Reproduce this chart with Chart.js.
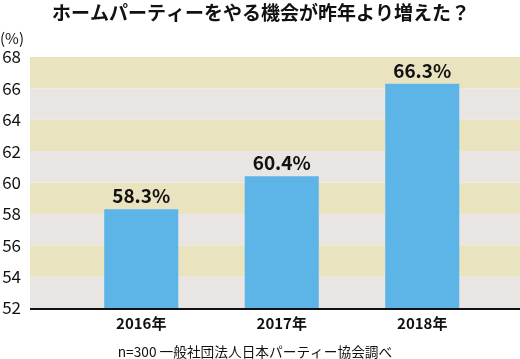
<!DOCTYPE html>
<html>
<head>
<meta charset="utf-8">
<script src="https://cdn.jsdelivr.net/npm/chart.js@4/dist/chart.umd.min.js"></script>
<style>
html,body{margin:0;padding:0;background:#fff;}
#wrap{width:520px;height:359px;position:relative;}
</style>
</head>
<body>
<div id="wrap"><canvas id="c" width="520" height="359"></canvas></div>
<script>
const categories = ["2016年", "2017年", "2018年"];
const values = [58.3, 60.4, 66.3];
const valueLabels = ["58.3%", "60.4%", "66.3%"];
const yTicks = [52, 54, 56, 58, 60, 62, 64, 66, 68];
const titleText = "ホームパーティーをやる機会が昨年より増えた？";
const unitText = "(%)";
const sourceText = "n=300 一般社団法人日本パーティー協会調べ";

const FONT = '"Noto Sans CJK JP", "Noto Sans", sans-serif';
const BEIGE = "#eae3c0";
const GREY = "#e9e5e2";
const BAR = "#5db4e7";

const bandsPlugin = {
  id: "bands",
  beforeDatasetsDraw(chart) {
    const ctx = chart.ctx, y = chart.scales.y;
    ctx.save();
    for (let i = 0; i < yTicks.length - 1; i++) {
      const v0 = yTicks[i], v1 = yTicks[i + 1];
      const top = y.getPixelForValue(v1), bot = y.getPixelForValue(v0);
      ctx.fillStyle = (i % 2 === 1) ? BEIGE : GREY;
      ctx.fillRect(30, top, 520 - 30, bot - top);
    }
    ctx.restore();
  },
  afterDatasetsDraw(chart) {
    const ctx = chart.ctx, y = chart.scales.y;
    ctx.save();
    const base = y.getPixelForValue(yTicks[0]);
    ctx.fillStyle = "#111";
    ctx.fillRect(30, base, 490, 2);
    const meta = chart.getDatasetMeta(0);
    ctx.font = "bold 19px " + FONT;
    ctx.textAlign = "center";
    ctx.textBaseline = "alphabetic";
    meta.data.forEach((bar, i) => {
      ctx.fillText(valueLabels[i], bar.x, bar.y - 6);
    });
    ctx.font = "15px " + FONT;
    ctx.textAlign = "left";
    ctx.textBaseline = "middle";
    ctx.fillText(unitText, 0, 38.5);
    ctx.font = "bold 19px " + FONT;
    ctx.textAlign = "center";
    ctx.fillText(titleText, 261, 12.5);
    ctx.font = "13.7px " + FONT;
    ctx.fillText(sourceText, 255, 352);
    ctx.restore();
  }
};

new Chart(document.getElementById("c"), {
  type: "bar",
  data: {
    labels: categories,
    datasets: [{
      data: values,
      backgroundColor: BAR,
      borderWidth: 0,
      categoryPercentage: 1,
      barPercentage: 0.527
    }]
  },
  options: {
    responsive: false,
    animation: false,
    layout: { padding: { top: 57, right: 27.5, bottom: 14, left: 0 } },
    plugins: {
      legend: { display: false },
      tooltip: { enabled: false },
      title: { display: false },
      subtitle: { display: false }
    },
    scales: {
      x: {
        grid: { display: false, drawTicks: false },
        border: { display: false },
        ticks: { color: "#111", font: { family: FONT, size: 15, weight: "bold", lineHeight: 1.2 }, padding: 6.5 },
        afterFit(scale) { scale.height = 37; }
      },
      y: {
        min: 52, max: 68,
        grid: { display: false, drawTicks: false },
        border: { display: false },
        afterBuildTicks(scale) { scale.ticks = yTicks.map(v => ({ value: v })); },
        ticks: { color: "#111", font: { family: FONT, size: 17 }, padding: 50 },
        afterFit(scale) { scale.width = 71; scale.paddingTop = 0; scale.paddingBottom = 0; }
      }
    }
  },
  plugins: [bandsPlugin]
});
</script>
</body>
</html>
